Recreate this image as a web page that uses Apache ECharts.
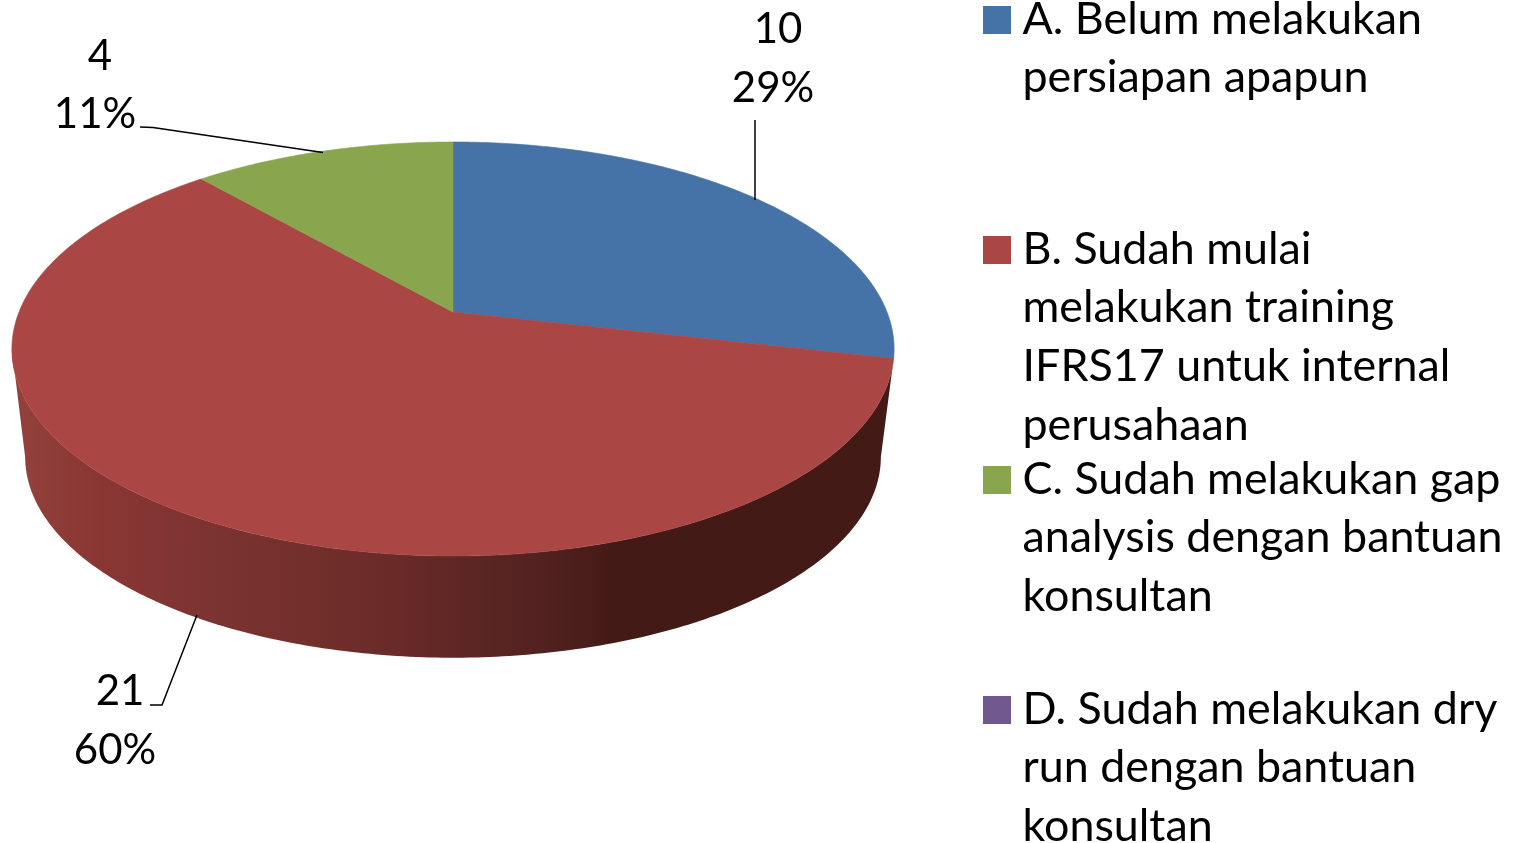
<!DOCTYPE html>
<html>
<head>
<meta charset="utf-8">
<style>html,body{margin:0;padding:0;background:#fff;overflow:hidden}#c{width:1513px;height:843px}</style>
<script src="https://cdn.jsdelivr.net/npm/echarts@6/dist/echarts.min.js"></script>
</head>
<body>
<div id="c"></div>
<script>
const categories = [
  'A. Belum melakukan\npersiapan apapun',
  'B. Sudah mulai\nmelakukan training\nIFRS17 untuk internal\nperusahaan',
  'C. Sudah melakukan gap\nanalysis dengan bantuan\nkonsultan',
  'D. Sudah melakukan dry\nrun dengan bantuan\nkonsultan'
];
const values = [10, 21, 4, 0];
const colors = ['#4572A7', '#AA4643', '#89A54E', '#71588F'];

const FONT = 'Lato';
const LABEL_FS = 42;
const LEGEND_FS = 44.8;
const P = {x0: 453, y0: 312, a: 200.4, b: 434, k: -0.1787, sink: 109, taper: 0.97};
const total = values.reduce((s, v) => s + v, 0);

function project(deg, bottom) {
  const t = deg * Math.PI / 180, u = Math.sin(t), v = -Math.cos(t), d = 1 + P.k * v;
  const s = bottom ? P.taper : 1;
  return [P.x0 + s * P.b * u / d, P.y0 + (bottom ? P.sink : 0) + s * P.a * v / d];
}
function arc(a1, a2, bottom) {
  const n = Math.max(2, Math.ceil(Math.abs(a2 - a1) / 0.75)), out = [];
  for (let i = 0; i <= n; i++) out.push(project(a1 + (a2 - a1) * i / n, bottom));
  return out;
}
const tangent = Math.acos(P.k) * 180 / Math.PI;   // silhouette angle on the right
const labelPos = [
  {n: [778, 29], p: [773, 88], line: [[755, 120], [755, 200]]},
  {n: [120, 691], p: [115, 750], line: [[150, 705], [162, 705], [197, 615]]},
  {n: [100, 56], p: [95, 114], line: [[140, 127], [153, 127.5], [323, 152.5]]},
  null
];

function renderSlice(idx) {
  return function (params, api) {
    const val = api.value(0);
    if (!val) return null;
    const before = values.slice(0, idx).reduce((s, v) => s + v, 0);
    const a1 = before / total * 360, a2 = (before + val) / total * 360;
    const children = [];
    if (a1 < 180 && a2 > 180) {
      const rightT = tangent, leftT = 360 - rightT;
      const top = arc(Math.max(a1, rightT), Math.min(a2, leftT), false);
      const bot = arc(Math.min(a2, leftT), rightT, true);
      children.push({
        type: 'polygon', shape: {points: top.concat(bot)},
        style: {
          fill: new echarts.graphic.LinearGradient(26, 0, 882, 0, [
            {offset: 0, color: '#92403C'},
            {offset: 0.09, color: '#893633'},
            {offset: 0.203, color: '#7D3432'},
            {offset: 0.355, color: '#702E2B'},
            {offset: 0.437, color: '#692A28'},
            {offset: 0.519, color: '#5C2624'},
            {offset: 0.6, color: '#522220'},
            {offset: 0.682, color: '#441A17'},
            {offset: 1, color: '#441A17'}
          ], true)
        }
      });
    }
    const pts = [[P.x0, P.y0]].concat(arc(a1, a2, false));
    children.push({
      type: 'polygon', shape: {points: pts},
      style: {fill: colors[idx], stroke: colors[idx], lineWidth: 0.6}
    });
    const pos = labelPos[idx];
    if (pos) {
      children.push({
        type: 'polyline', shape: {points: pos.line}, z2: 20,
        style: {fill: 'none', stroke: '#000', lineWidth: 1.5}
      });
      const txt = (s, at) => ({
        type: 'text', z2: 21, x: at[0], y: at[1],
        style: {text: s, font: LABEL_FS + 'px ' + FONT, fill: '#000', align: 'center', verticalAlign: 'middle'}
      });
      children.push(txt(String(val), pos.n));
      children.push(txt(Math.round(val / total * 100) + '%', pos.p));
    }
    return {type: 'group', children};
  };
}

const LINES = 4, LH = 58.7, ITEM = LINES * LH, SQ = 28, ICON_W = 34.5, SQ_TOP = 16;
const chart = echarts.init(document.getElementById('c'), null, {renderer: 'canvas'});
chart.setOption({
  animation: false,
  backgroundColor: '#fff',
  legend: {
    orient: 'vertical',
    left: 983, top: -10, height: 1200, padding: 0,
    itemGap: 230 - ITEM,
    itemWidth: ICON_W, itemHeight: ITEM,
    symbolKeepAspect: false,
    icon: 'path://M0 ' + SQ_TOP + 'H' + SQ + 'V' + (SQ_TOP + SQ) + 'H0Z M0 0L0 0 M' + ICON_W + ' ' + ITEM + 'L' + ICON_W + ' ' + ITEM,
    selectedMode: false,
    data: categories,
    formatter: name => name + '\n'.repeat(LINES - name.split('\n').length),
    textStyle: {fontFamily: FONT, fontSize: LEGEND_FS, lineHeight: LH, color: '#000'},
    itemStyle: {borderWidth: 0}
  },
  series: categories.map((name, i) => ({
    type: 'custom',
    name,
    coordinateSystem: 'none',
    silent: true,
    itemStyle: {color: colors[i]},
    data: [[values[i]]],
    renderItem: renderSlice(i)
  }))
});
</script>
</body>
</html>
